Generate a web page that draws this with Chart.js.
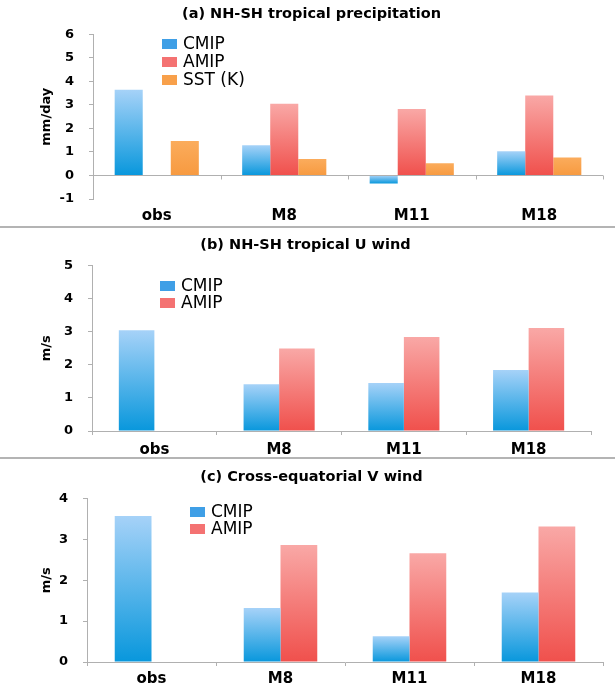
<!DOCTYPE html>
<html>
<head>
<meta charset="utf-8">
<script src="https://cdn.jsdelivr.net/npm/chart.js@4/dist/chart.umd.min.js"></script>
<style>
  body { margin: 0; background: #fff; }
  #page { position: relative; width: 615px; height: 687px; overflow: hidden; }
  .panel { position: absolute; left: 0; }
  .rule { position: absolute; left: 0; width: 615px; height: 2px; background: #b4b4b4; }
</style>
</head>
<body>
<div id="page">
  <canvas id="panelA" class="panel" style="top:0" width="615" height="226"></canvas>
  <div class="rule" style="top:226px"></div>
  <canvas id="panelB" class="panel" style="top:228px" width="615" height="229"></canvas>
  <div class="rule" style="top:457px"></div>
  <canvas id="panelC" class="panel" style="top:459px" width="615" height="228"></canvas>
</div>
<script>
(function () {
  'use strict';

  var categories = ['obs', 'M8', 'M11', 'M18'];

  // (a) NH-SH tropical precipitation, mm/day (SST in K)
  var precipCmip = [3.65, 1.29, -0.34, 1.03];
  var precipAmip = [null, 3.05, 2.83, 3.40];
  var precipSst = [1.47, 0.70, 0.52, 0.77];

  // (b) NH-SH tropical U wind, m/s
  var uCmip = [3.04, 1.41, 1.45, 1.84];
  var uAmip = [null, 2.49, 2.84, 3.11];

  // (c) Cross-equatorial V wind, m/s
  var vCmip = [3.57, 1.32, 0.63, 1.70];
  var vAmip = [null, 2.86, 2.66, 3.31];

  var grey = '#b0b0b0';
  var fontFamily = '"DejaVu Sans", Verdana, sans-serif';

  // each bar gets its own top-to-bottom gradient, like the Excel original
  function barGradient(top, bottom) {
    return function (c) {
      var chart = c.chart;
      if (c.type !== 'data' || !chart.chartArea || c.raw === null) return bottom;
      var y = chart.scales.y;
      var y0 = y.getPixelForValue(0);
      var y1 = y.getPixelForValue(c.raw);
      if (!isFinite(y0) || !isFinite(y1) || y0 === y1) return bottom;
      var g = chart.ctx.createLinearGradient(0, Math.min(y0, y1), 0, Math.max(y0, y1));
      g.addColorStop(0, top);
      g.addColorStop(1, bottom);
      return g;
    };
  }

  var cmipStyle = { top: '#a6d2f8', bottom: '#0897dc', key: '#3f9fe6' };
  var amipStyle = { top: '#f9a8a6', bottom: '#f0504c', key: '#f47272' };
  var sstStyle = { top: '#fbac5c', bottom: '#f79a40', key: '#f8a04a' };

  function series(label, values, style) {
    return {
      label: label,
      data: values,
      backgroundColor: barGradient(style.top, style.bottom),
      legendColor: style.key,
      borderWidth: 0
    };
  }

  // legend drawn inside the plot, stacked vertically
  var insideLegend = {
    id: 'insideLegend',
    afterDraw: function (chart, args, opts) {
      var ctx = chart.ctx;
      ctx.save();
      ctx.font = opts.size + 'px ' + fontFamily;
      ctx.textBaseline = 'middle';
      chart.data.datasets.forEach(function (ds, i) {
        var y = opts.y + i * opts.gap;
        ctx.fillStyle = ds.legendColor;
        ctx.fillRect(opts.x, y - 5, 15, 10);
        ctx.fillStyle = '#000';
        ctx.fillText(ds.label, opts.x + 21, y + 1);
      });
      ctx.restore();
    }
  };

  // small category-boundary ticks hanging from the zero line (panel a)
  var zeroTicks = {
    id: 'zeroTicks',
    afterDraw: function (chart, args, opts) {
      if (!opts.show) return;
      var x = chart.scales.x, y = chart.scales.y;
      var y0 = y.getPixelForValue(0);
      var n = chart.data.labels.length;
      var ctx = chart.ctx;
      ctx.save();
      ctx.strokeStyle = grey;
      ctx.lineWidth = 1;
      ctx.beginPath();
      for (var i = 0; i <= n; i++) {
        var px = Math.round(x.left + i * x.width / n) + 0.5;
        ctx.moveTo(px, y0);
        ctx.lineTo(px, y0 + 4);
      }
      ctx.stroke();
      ctx.restore();
    }
  };

  function makeChart(id, cfg) {
    var scales = {
      x: {
        offset: true,
        grid: { display: !cfg.zeroAxis, drawOnChartArea: false, tickLength: 4, color: grey, offset: true },
        border: { display: !cfg.zeroAxis, color: grey },
        ticks: { color: '#000', padding: cfg.xPad, font: { family: fontFamily, size: 15, weight: 'bold' } }
      },
      y: {
        min: cfg.min,
        max: cfg.max,
        afterFit: function (scale) { scale.width = cfg.axisWidth; },
        grid: {
          display: true,
          drawOnChartArea: cfg.zeroAxis,
          tickLength: 4,
          tickColor: grey,
          color: function (c) {
            return c.tick && c.tick.value === 0 ? grey : 'rgba(0,0,0,0)';
          }
        },
        border: { display: true, color: grey },
        ticks: { stepSize: 1, color: '#000', padding: 15, font: { family: fontFamily, size: 13, weight: 'bold' } },
        title: {
          display: true,
          text: cfg.unit,
          color: '#000',
          padding: { top: 19, bottom: 0 },
          font: { family: fontFamily, size: 13, weight: 'bold' }
        }
      }
    };
    return new Chart(document.getElementById(id), {
      type: 'bar',
      data: { labels: categories, datasets: cfg.datasets },
      options: {
        responsive: false,
        animation: false,
        categoryPercentage: cfg.groupWidth,
        barPercentage: 1.0,
        layout: { padding: { left: 20, right: cfg.right, top: 0, bottom: cfg.bottom } },
        plugins: {
          legend: { display: false },
          tooltip: { enabled: false },
          title: {
            display: true,
            text: cfg.title,
            color: '#000',
            padding: { top: cfg.titleTop, bottom: cfg.titleBottom },
            font: { family: fontFamily, size: 14.5, weight: 'bold' }
          },
          insideLegend: cfg.legend,
          zeroTicks: { show: cfg.zeroAxis }
        },
        scales: scales
      },
      plugins: [insideLegend, zeroTicks]
    });
  }

  makeChart('panelA', {
    title: '(a) NH-SH tropical precipitation',
    unit: 'mm/day',
    min: -1, max: 6,
    zeroAxis: true,
    datasets: [
      series('CMIP', precipCmip, cmipStyle),
      series('AMIP', precipAmip, amipStyle),
      series('SST (K)', precipSst, sstStyle)
    ],
    groupWidth: 0.66,
    axisWidth: 73, right: 12, bottom: -3, xPad: 4,
    titleTop: 6, titleBottom: 11,
    legend: { x: 162, y: 44, gap: 18, size: 17 }
  });

  makeChart('panelB', {
    title: '(b) NH-SH tropical U wind',
    unit: 'm/s',
    min: 0, max: 5,
    zeroAxis: false,
    datasets: [
      series('CMIP', uCmip, cmipStyle),
      series('AMIP', uAmip, amipStyle)
    ],
    groupWidth: 0.57,
    axisWidth: 72, right: 24, bottom: -8, xPad: 6,
    titleTop: 9, titleBottom: 11,
    legend: { x: 160, y: 58, gap: 17, size: 17 }
  });

  makeChart('panelC', {
    title: '(c) Cross-equatorial V wind',
    unit: 'm/s',
    min: 0, max: 4,
    zeroAxis: false,
    datasets: [
      series('CMIP', vCmip, cmipStyle),
      series('AMIP', vAmip, amipStyle)
    ],
    groupWidth: 0.57,
    axisWidth: 67, right: 12, bottom: -5, xPad: 4,
    titleTop: 10, titleBottom: 12,
    legend: { x: 190, y: 53, gap: 17, size: 17 }
  });
}());
</script>
</body>
</html>
